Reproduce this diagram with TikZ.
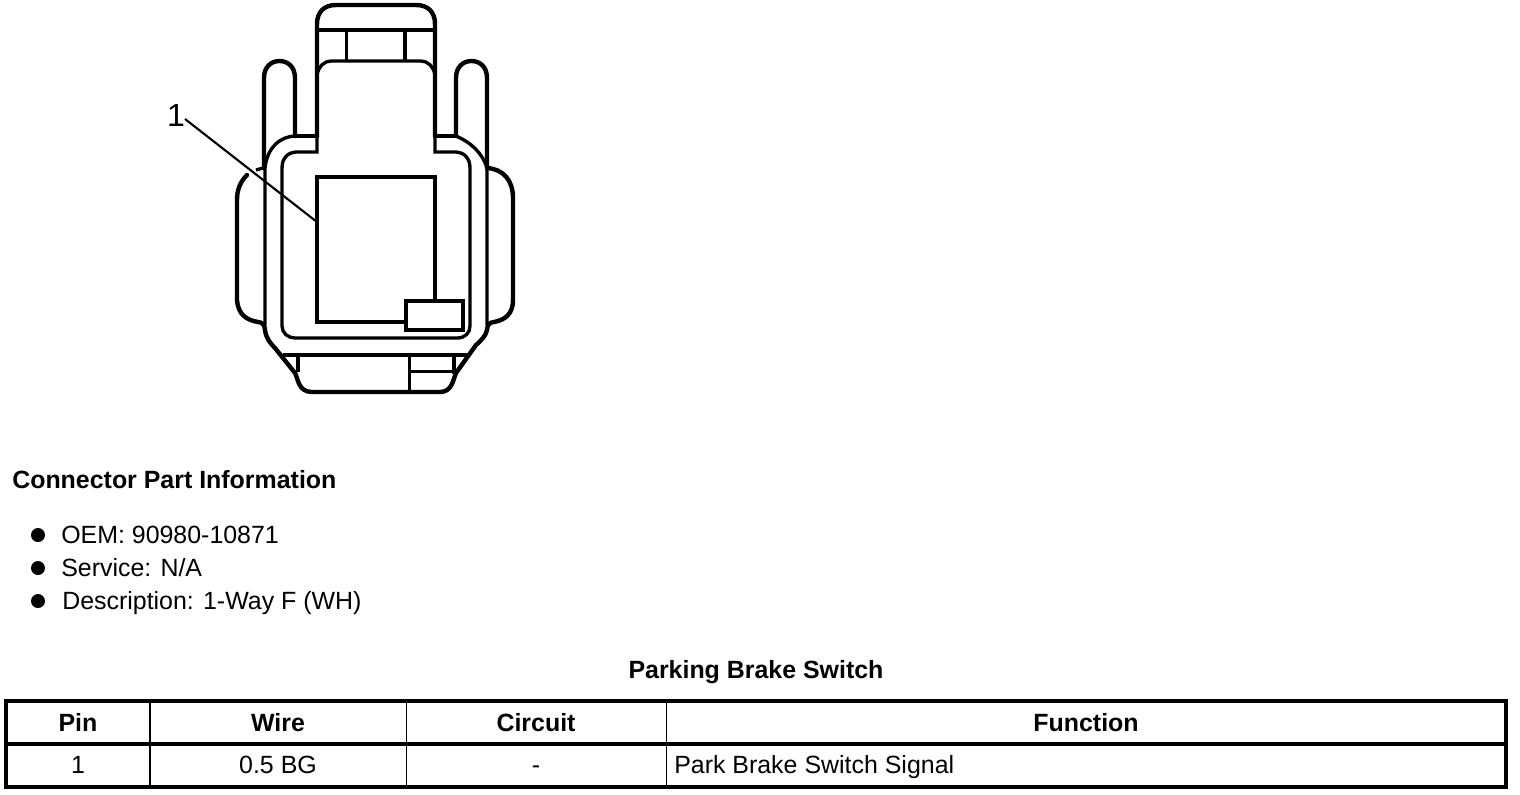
\documentclass[tikz,border=0pt]{standalone}
\usepackage{fontspec}
\setmainfont{Liberation Sans}
\tikzset{
  x=0.75pt,y=-0.75pt,
  heavy/.style={line width=3.3pt,line cap=round,line join=round,black},
  medium/.style={line width=2.5pt,line cap=butt,line join=miter,black},
  thinrule/.style={line width=0.85pt,black},
  body/.style={font=\fontsize{18.7pt}{21pt}\selectfont,inner sep=0pt,anchor=base west},
  bodyc/.style={font=\fontsize{18.7pt}{21pt}\selectfont,inner sep=0pt,anchor=base},
  head/.style={font=\bfseries\fontsize{18.7pt}{21pt}\selectfont,inner sep=0pt,anchor=base},
  dot/.style={circle,fill=black,draw=none,minimum size=10.5pt,inner sep=0pt},
}
\begin{document}
\begin{tikzpicture}
\useasboundingbox (0,0) rectangle (1520,794);
% top latch
\draw[heavy] (317,136) -- (317,24) .. controls (317,12) and (324,5) .. (336,5) -- (416,5) .. controls (428,5) and (435,12) .. (435,24) -- (435,136);
\draw[medium] (317,30) -- (435,30);
\draw[medium] (346.5,30) -- (346.5,61);
\draw[medium] (405,30) -- (405,61);
\draw[medium] (317,74) .. controls (319,67) and (323,61) .. (332,61) -- (420,61) .. controls (429,61) and (433,67) .. (435,74);
% side tabs
\draw[heavy] (264,168) -- (264,78) .. controls (264,67) and (271,61) .. (279.5,61) .. controls (288,61) and (295,67) .. (295,78) -- (295,136);
\draw[heavy] (456,136) -- (456,78) .. controls (456,67) and (463,61) .. (471.5,61) .. controls (480,61) and (487,67) .. (487,78) -- (487,168);
% shoulders
\draw[heavy] (295,136) -- (317,136) (435,136) -- (456,136);
\draw[medium] (265,325) -- (265,168) .. controls (267,148) and (280,136) .. (296,136);
\draw[medium] (487,325) -- (487,168) .. controls (482,152) and (470,142) .. (456,136);
% inner contour
\draw[medium] (317,136) -- (317,152) -- (297,152) .. controls (288,152) and (282,158) .. (282,168) -- (282,326) .. controls (282,333) and (288,338) .. (295,338) -- (457,338) .. controls (465,338) and (470,333) .. (470,326) -- (470,168) .. controls (470,158) and (464,152) .. (455,152) -- (435,152) -- (435,136);
% side lobes
\draw[heavy] (247,175) .. controls (240,182) and (237,190) .. (237,200) -- (237,300) .. controls (238,314) and (246,320) .. (258,322) .. controls (262,322) and (265,325) .. (265,330);
\draw[medium] (256,170) -- (263,168);
\draw[heavy] (487,168) .. controls (503,169) and (513,180) .. (513,198) -- (513,300) .. controls (513,314) and (505,320) .. (494,322) .. controls (490,322) and (487,325) .. (487,330);
% lower body
\draw[heavy] (265,330) .. controls (266,338) and (270,343) .. (275,348) -- (295,373) .. controls (298,378) and (298,392) .. (312,392) -- (440,392) .. controls (452,392) and (453,380) .. (456,373) -- (476,345) .. controls (482,340) and (486,335) .. (487,330);
\draw[medium] (283,355) -- (470,355);
\draw[medium] (298,355) -- (298,372);
\draw[medium] (409.5,355) -- (409.5,392);
\draw[medium] (454,355) -- (454,374);
\draw[medium] (409.5,371.5) -- (454,371.5);
% cavity
\node[draw=black,line width=2.4pt,minimum width=88.5pt,minimum height=108.75pt,inner sep=0pt,outer sep=0pt] (cavity) at (376,249.5) {};
\node[draw=black,fill=white,line width=2.6pt,minimum width=42.5pt,minimum height=21.5pt,inner sep=0pt,outer sep=0pt] (term) at (434.5,315.5) {};
% leader
\node[font=\fontsize{24pt}{27pt}\selectfont,inner sep=0pt] (pinlabel) at (176,115) {1};
\coordinate (pinstart) at (185,119);
\coordinate (pinend) at ([yshift=-33.75pt]cavity.north west);
\draw[line width=1.6pt] (pinstart) -- (pinend);
% text
\node[head,anchor=base west] (title) at (12,488.7) {Connector Part Information};
\node[dot] (d1) at (38,535) {};
\node[dot] (d2) at (38,568) {};
\node[dot] (d3) at (38,601) {};
\node[body] (t1) at (61,543.7) {OEM: 90980-10871};
\node[body] (t2) at (61,576.7) {Service: N/A};
\node[body] (t3) at (62,609.7) {Description: 1-Way F (WH)};
\node[head] (tabletitle) at (756,678.7) {Parking Brake Switch};
% table
\node[draw=black,line width=2.8pt,minimum width=1125pt,minimum height=64.5pt,inner sep=0pt,outer sep=0pt] (tbl) at (756,744) {};
\draw[line width=2.4pt] (tbl.west) -- (tbl.east);
\draw[thinrule] (150,701) -- (150,787) (406.5,701) -- (406.5,787) (666.5,701) -- (666.5,787);
\node[head] (h1) at (78,731.7) {Pin};
\node[head] (h2) at (278,731.7) {Wire};
\node[head] (h3) at (536,731.7) {Circuit};
\node[head] (h4) at (1086,731.7) {Function};
\node[bodyc] (c1) at (78,773.7) {1};
\node[bodyc] (c2) at (278,773.7) {0.5 BG};
\node[bodyc] (c3) at (536,773.7) {-};
\node[body] (c4) at (674,773.7) {Park Brake Switch Signal};
\end{tikzpicture}
\end{document}
